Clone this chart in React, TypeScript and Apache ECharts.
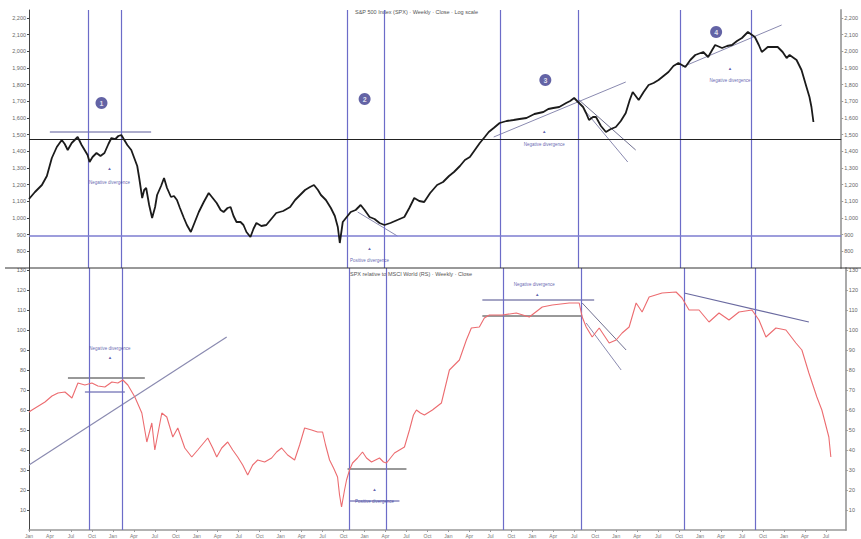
import React, { useEffect, useRef } from "react";
import * as echarts from "echarts";

// ---- top panel: index (weekly close) ----
const priceWeek = [
  0,6,13,18,23,28,33,36,39,43,49,53,59,61,64,68,72,76,80,83,87,90,93,96,99,103,106,109,111,114,116,118,121,124,127,129,133,136,139,143,146,149,152,156,159,163,167,171,176,181,185,189,193,196,200,203,206,209,213,216,219,223,226,229,234,239,244,249,256,263,268,273,278,283,287,291,
  294,299,304,308,311,313,316,320,324,329,334,338,343,348,353,358,364,371,378,383,388,393,398,404,411,417,423,428,434,439,444,449,454,459,463,468,474,481,488,494,501,509,518,523,528,534,541,545,549,554,558,561,564,568,571,576,581,586,591,596,601,
  605,608,614,619,624,629,634,639,644,649,654,661,666,671,679,684,688,691,698,703,708,713,718,724,731,735,738,744,749,754,759,763,766,773,778,783,786,788,790,
];
const priceClose = [
  1114,1156,1198,1252,1360,1426,1468,1444,1408,1450,1486,1438,1378,1336,1366,1390,1372,1390,1444,1480,1474,1492,1498,1468,1438,1408,1360,1312,1240,1120,1168,1180,1078,1000,1066,1138,1192,1240,1180,1126,1132,1108,1060,1000,958,916,976,1036,1096,1150,1120,1090,1048,1036,1060,1066,1012,976,976,958,916,886,934,970,952,958,994,1030,1042,1066,1108,1138,1168,1186,1198,1168,
  1138,1108,1060,1012,946,850,976,1006,1036,1048,1078,1048,1006,994,970,958,970,988,1006,1060,1120,1102,1096,1150,1198,1216,1252,1276,1312,1348,1366,1408,1450,1486,1516,1540,1570,1582,1588,1594,1600,1624,1636,1654,1660,1666,1690,1702,1720,1690,1666,1630,1588,1606,1606,1552,1516,1534,1546,1582,1630,
  1708,1756,1708,1756,1798,1810,1828,1852,1876,1912,1930,1906,1948,1978,1996,1966,2008,2038,2020,2032,2038,2062,2080,2116,2086,2038,1996,2026,2026,2026,1996,1960,1978,1948,1888,1786,1726,1666,1576,
];

// ---- bottom panel: relative strength ----
const rsWeek = [
  0,3,16,23,29,36,43,49,56,63,69,76,83,89,94,99,106,113,118,123,126,133,138,144,149,156,163,169,179,184,188,193,199,204,209,214,219,224,229,236,243,248,253,259,266,271,276,283,289,294,297,301,305,309,311,313,316,318,321,324,329,334,338,343,347,351,355,358,362,366,371,376,381,385,388,392,396,404,413,
  421,431,438,443,451,456,461,474,488,501,514,524,541,551,554,558,564,571,581,588,594,601,608,614,621,634,648,654,661,671,681,691,701,711,724,731,738,748,758,768,774,781,789,794,801,803,
];
const rsValue = [
  59,60,64,67,68.5,69,66,73.5,72.5,73.5,72,71.5,74,73.5,75,72.5,66.5,58.5,44,53.5,40,58.5,56.5,46.5,51,41,36.5,40,46,41,36.5,41,44,40,36.5,32.5,27.5,32.5,35,34,36,39,41,37.5,35,42.5,51,50,49,49,42.5,35,31,26.5,17.5,11.5,20,25,30,33.5,36,39,36,34,35,36,34,33.5,36,38.5,40,41.5,50,57.5,60,58.5,57.5,60,63.5,
  80,85,95,101,101.5,106,107.5,107.5,108.5,106.5,111.5,112.5,113.5,113.5,106.5,101.5,96.5,101,93.5,95,98.5,101.5,113.5,109,116.5,118.5,119,116,110,110,104,108.5,105,109,110,105,96.5,101,100,93.5,90,78.5,66.5,60,46.5,36.5,
];

// vertical signal weeks
const signalWeeks = [60, 93, 321, 358, 475, 553, 656, 727];
// horizontal levels on top panel
const resistanceLevel = 1474;
const supportLevel = 892;

// top trend lines
const peak1Level = [[21, 1516], [123, 1516]];
const trough2Line = [[331, 1036], [371, 892]];
const rise3Line = [[468, 1486], [601, 1816]];
const fall3LineA = [[554, 1708], [611, 1408]];
const fall3LineB = [[561, 1636], [603, 1336]];
const rise4Line = [[658, 1906], [758, 2158]];

// bottom trend lines
const rsRise1 = [[0, 32.5], [198, 96.5]];
const rsLevel1a = [[39, 76], [116, 76]];
const rsLevel1b = [[56, 69], [96, 69]];
const rsLevel2a = [[319, 30.5], [378, 30.5]];
const rsLevel2b = [[321, 14.5], [371, 14.5]];
const rsLevel3a = [[454, 115], [566, 115]];
const rsLevel3b = [[454, 107], [554, 107]];
const rsFall3A = [[554, 113.5], [598, 90]];
const rsFall3B = [[558, 103.5], [593, 80]];
const rsFall4 = [[656, 118.5], [781, 104]];

// numbered circles
const circleMarks = [[73, 1690, "1"], [338, 1714, "2"], [520, 1828, "3"], [692, 2116, "4"]];
// note texts
const topNotes = [
  [81, 1300, "▲"], [81, 1216, "Negative divergence"],
  [343, 820, "▲"], [343, 748, "Positive divergence"],
  [519, 1522, "▲"], [519, 1444, "Negative divergence"],
  [706, 1900, "▲"], [706, 1828, "Negative divergence"],
];
const bottomNotes = [
  [81, 91, "Negative divergence"], [81, 86.5, "▲"],
  [346, 20.5, "▲"], [346, 14.5, "Positive divergence"],
  [506, 123, "Negative divergence"], [509, 118, "▲"],
];

const xTickLabels = ["Jan","Apr","Jul","Oct","Jan","Apr","Jul","Oct","Jan","Apr","Jul","Oct","Jan","Apr","Jul","Oct","Jan","Apr","Jul","Oct","Jan","Apr","Jul","Oct","Jan","Apr","Jul","Oct","Jan","Apr","Jul","Oct","Jan","Apr","Jul","Oct","Jan","Apr","Jul","Oct"];

const FONT = "Liberation Sans";

function trend(pts: number[][], grid: number, color: string, width = 1) {
  return {
    type: "line",
    xAxisIndex: grid,
    yAxisIndex: grid,
    data: pts,
    symbol: "none",
    silent: true,
    lineStyle: { color, width },
    z: 4,
  };
}

function notes(data: any[], grid: number) {
  return {
    type: "scatter",
    xAxisIndex: grid,
    yAxisIndex: grid,
    data,
    symbolSize: 0,
    silent: true,
    label: {
      show: true,
      position: "inside",
      formatter: (p: any) => p.data[2],
      fontSize: 4.5,
      color: "#3a3a9a",
      fontFamily: FONT,
    },
    z: 6,
  };
}

export default function App() {
  const ref = useRef<HTMLDivElement>(null);
  useEffect(() => {
    const chart = echarts.init(ref.current!, null, { renderer: "svg" });
    const vLineColor = "#6c6cc8";
    const yLabel = { fontSize: 5.5, color: "#666", fontFamily: FONT, showMaxLabel: false, showMinLabel: false, margin: 3 };
    const option: any = {
      animation: false,
      backgroundColor: "#ffffff",
      grid: [
        { left: 29, right: 14, top: 10, height: 258 },
        { left: 29, right: 14, top: 268, height: 262 },
      ],
      xAxis: [
        { type: "value", gridIndex: 0, min: 0, max: 818, show: false },
        {
          type: "value", gridIndex: 1, min: 0, max: 818, interval: 21,
          axisLine: { lineStyle: { color: "#999", width: 1.5 } },
          axisTick: { length: 2, lineStyle: { color: "#999" } },
          splitLine: { show: false },
          axisLabel: {
            fontSize: 5, color: "#777", fontFamily: FONT, margin: 3, showMaxLabel: false,
            formatter: (v: number) => xTickLabels[Math.round(v / 21)] ?? "",
          },
        },
      ],
      yAxis: [
        {
          type: "value", gridIndex: 0, min: 700, max: 2248, interval: 100,
          axisLine: { show: true, lineStyle: { color: "#444" } },
          axisTick: { show: true, length: 2, lineStyle: { color: "#444" } },
          splitLine: { show: false }, axisLabel: yLabel,
        },
        {
          type: "value", gridIndex: 1, min: 0, max: 131, interval: 10,
          axisLine: { show: true, lineStyle: { color: "#444" } },
          axisTick: { show: true, length: 2, lineStyle: { color: "#444" } },
          splitLine: { show: false }, axisLabel: yLabel,
        },
        {
          type: "value", gridIndex: 0, position: "right", min: 700, max: 2248, interval: 100,
          axisLine: { show: true, lineStyle: { color: "#aaa", width: 2 } },
          axisTick: { show: true, length: 2, lineStyle: { color: "#999" } },
          splitLine: { show: false }, axisLabel: yLabel,
        },
        {
          type: "value", gridIndex: 1, position: "right", min: 0, max: 131, interval: 10,
          axisLine: { show: true, lineStyle: { color: "#aaa", width: 2 } },
          axisTick: { show: true, length: 2, lineStyle: { color: "#999" } },
          splitLine: { show: false }, axisLabel: yLabel,
        },
      ],
      graphic: [
        { type: "line", shape: { x1: 5, y1: 268, x2: 861, y2: 268 }, style: { stroke: "#333", lineWidth: 1 }, z: 10 },
        { type: "text", left: 355, top: 9, style: { text: "S&P 500 Index (SPX) · Weekly · Close · Log scale", fontSize: 5.5, fill: "#555", fontFamily: FONT } },
        { type: "text", left: 350, top: 271, style: { text: "SPX relative to MSCI World (RS) · Weekly · Close", fontSize: 5.5, fill: "#555", fontFamily: FONT } },
      ],
      series: [
        {
          type: "line", xAxisIndex: 0, yAxisIndex: 0,
          data: priceWeek.map((w, i) => [w, priceClose[i]]),
          symbol: "none", lineStyle: { color: "#1b1b1b", width: 1.8 }, z: 5,
          markLine: {
            silent: true, symbol: "none", label: { show: false },
            data: [
              ...signalWeeks.map((w) => ({ xAxis: w, lineStyle: { color: vLineColor, width: 1.2, type: "solid" } })),
              { yAxis: resistanceLevel, lineStyle: { color: "#222", width: 1, type: "solid" } },
              { yAxis: supportLevel, lineStyle: { color: "#7c7cd0", width: 1.6, type: "solid" } },
            ],
          },
        },
        {
          type: "line", xAxisIndex: 1, yAxisIndex: 1,
          data: rsWeek.map((w, i) => [w, rsValue[i]]),
          symbol: "none", lineStyle: { color: "#ec6c70", width: 1.1 }, z: 5,
          markLine: {
            silent: true, symbol: "none", label: { show: false },
            data: signalWeeks.map((w) => ({ xAxis: w, lineStyle: { color: vLineColor, width: 1.2, type: "solid" } })),
          },
        },
        trend(peak1Level, 0, "#5a5a9a"),
        trend(trough2Line, 0, "#8a8ab0"),
        trend(rise3Line, 0, "#8a8ab0"),
        trend(fall3LineA, 0, "#707090"),
        trend(fall3LineB, 0, "#8a8ab0"),
        trend(rise4Line, 0, "#8a8ab0"),
        trend(rsRise1, 1, "#8a8ab0", 1.2),
        trend(rsLevel1a, 1, "#333"),
        trend(rsLevel1b, 1, "#4a4aa0"),
        trend(rsLevel2a, 1, "#333"),
        trend(rsLevel2b, 1, "#4a4aa0"),
        trend(rsLevel3a, 1, "#4a4a8a"),
        trend(rsLevel3b, 1, "#333"),
        trend(rsFall3A, 1, "#707090"),
        trend(rsFall3B, 1, "#8a8ab0"),
        trend(rsFall4, 1, "#6a6aa0", 1.2),
        {
          type: "scatter", xAxisIndex: 0, yAxisIndex: 0,
          data: circleMarks, symbol: "circle", symbolSize: 12, silent: true,
          itemStyle: { color: "#3c3c8e" },
          label: { show: true, position: "inside", formatter: (p: any) => p.data[2], fontSize: 7, fontWeight: "bold", color: "#fff", fontFamily: FONT },
          z: 7,
        },
        notes(topNotes, 0),
        notes(bottomNotes, 1),
      ],
    };
    chart.setOption(option);
    return () => chart.dispose();
  }, []);
  return <div ref={ref} style={{ position: "absolute", left: 0, top: 0, width: 861, height: 539 }} />;
}
